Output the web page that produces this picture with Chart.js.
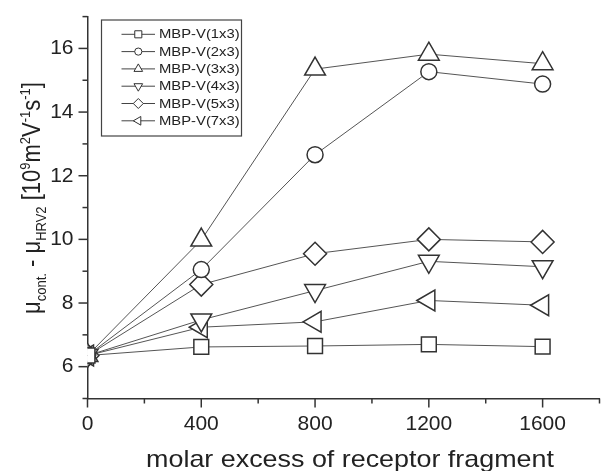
<!DOCTYPE html>
<html><head><meta charset="utf-8">
<script src="https://cdn.jsdelivr.net/npm/chart.js@4"></script>
<style>html,body{margin:0;padding:0;background:#fff}#wrap{width:613px;height:471px;position:relative}</style>
</head><body><div id="wrap"><canvas id="c"></canvas></div>
<script>
// ---- data ----
const xValues = [0, 400, 800, 1200, 1600];
const s1x3 = [6.35, 6.62, 6.65, 6.70, 6.63];
const s2x3 = [6.35, 9.05, 12.66, 15.27, 14.88];
const s3x3 = [6.35, 9.98, 15.35, 15.82, 15.52];
const s4x3 = [6.35, 7.47, 8.39, 9.31, 9.14];
const s5x3 = [6.35, 8.58, 9.55, 10.00, 9.92];
const s7x3 = [6.35, 7.24, 7.41, 8.08, 7.93];
const seriesLabels = ['MBP-V(1x3)', 'MBP-V(2x3)', 'MBP-V(3x3)', 'MBP-V(4x3)', 'MBP-V(5x3)', 'MBP-V(7x3)'];
const xTickLabels = ['0', '400', '800', '1200', '1600'];
const yTickLabels = ['6', '8', '10', '12', '14', '16'];
const xTitle = 'molar excess of receptor fragment';
// y title parts: [text, kind] kind: n normal, sub, sup
const yTitleParts = [['\u03bc','n'],['cont.','sub'],[' - \u03bc','n'],['HRV2','sub'],[' [10','n'],['9','sup'],['m','n'],['2','sup'],['V','n'],['-1','sup'],['s','n'],['-1','sup'],[']','n']];

const seriesValues = [s1x3, s2x3, s3x3, s4x3, s5x3, s7x3];
const styles = [
  {ps:'rect', r:10.5, rot:0, lr:5},
  {ps:'circle', r:8, rot:0, lr:3.6},
  {ps:'triangle', r:12, rot:0, lr:5},
  {ps:'triangle', r:12, rot:180, lr:5},
  {ps:'rectRot', r:11.5, rot:0, lr:5},
  {ps:'triangle', r:12, rot:270, lr:5}
];
const FONT = '"Liberation Sans", Arial, sans-serif';

const datasets = seriesValues.map((vals, i) => ({
  label: seriesLabels[i],
  data: xValues.map((x, j) => ({x: x, y: vals[j]})),
  borderColor: '#555',
  borderWidth: 1,
  pointStyle: styles[i].ps,
  pointRadius: styles[i].r,
  pointRotation: styles[i].rot,
  pointBorderColor: '#333',
  pointBorderWidth: 1.5,
  pointBackgroundColor: '#fff',
  pointHoverRadius: styles[i].r,
  fill: false,
  tension: 0,
  clip: {left: 0, top: false, right: false, bottom: false}
}));

const decorPlugin = {
  id: 'decor',
  afterDraw(chart) {
    const ctx = chart.ctx;
    const xs = chart.scales.x, ys = chart.scales.y;
    const ca = chart.chartArea;
    ctx.save();
    ctx.strokeStyle = '#333';
    ctx.lineWidth = 1.5;
    // y ticks
    for (let v = 5; v <= 17; v++) {
      const p = ys.getPixelForValue(v);
      const major = yTickLabels.includes(String(v));
      const len = major ? 9 : 5;
      ctx.beginPath(); ctx.moveTo(ca.left, p); ctx.lineTo(ca.left - len, p); ctx.stroke();
    }
    for (let v = 0; v <= 1800; v += 200) {
      const p = xs.getPixelForValue(v);
      const major = xTickLabels.includes(String(v));
      const len = major ? 9 : 5;
      ctx.beginPath(); ctx.moveTo(p, ca.bottom); ctx.lineTo(p, ca.bottom + len); ctx.stroke();
    }
    // x title
    ctx.save();
    ctx.fillStyle = '#222';
    ctx.font = '24px ' + FONT;
    ctx.textAlign = 'center';
    ctx.textBaseline = 'alphabetic';
    ctx.translate(350, 467);
    ctx.scale(1.12, 1);
    ctx.fillText(xTitle, 0, 0);
    ctx.restore();
    // y title
    const big = 22, small = 13;
    let total = 0;
    const meas = yTitleParts.map(([t, k]) => {
      ctx.font = (k === 'n' ? big : small) + 'px ' + FONT;
      const w = ctx.measureText(t).width; total += w; return w;
    });
    ctx.save();
    ctx.fillStyle = '#222';
    ctx.translate(40, 198);
    ctx.scale(1.15, 1);
    ctx.rotate(-Math.PI / 2);
    ctx.textAlign = 'left';
    let cx = -total / 2;
    yTitleParts.forEach(([t, k], i) => {
      ctx.font = (k === 'n' ? big : small) + 'px ' + FONT;
      const dy = k === 'sub' ? 5 : (k === 'sup' ? -9 : 0);
      ctx.fillText(t, cx, dy);
      cx += meas[i];
    });
    ctx.restore();
    // legend
    const bx = 101.5, by = 20, bw = 140, bh = 116;
    ctx.fillStyle = '#fff';
    ctx.fillRect(bx, by, bw, bh);
    ctx.strokeStyle = '#444';
    ctx.lineWidth = 1.2;
    ctx.strokeRect(bx, by, bw, bh);
    seriesLabels.forEach((lab, i) => {
      const y = 34.3 + i * 17.3;
      ctx.strokeStyle = '#444'; ctx.lineWidth = 1;
      ctx.beginPath(); ctx.moveTo(121.5, y); ctx.lineTo(155, y); ctx.stroke();
      ctx.fillStyle = '#fff'; ctx.strokeStyle = '#333'; ctx.lineWidth = 1;
      if (Chart.helpers && Chart.helpers.drawPoint) {
        Chart.helpers.drawPoint(ctx, {pointStyle: styles[i].ps, radius: styles[i].lr, rotation: styles[i].rot, borderWidth: 1}, 138.3, y);
      }
      ctx.save();
      ctx.fillStyle = '#222';
      ctx.font = '13px ' + FONT;
      ctx.textAlign = 'left';
      ctx.textBaseline = 'middle';
      ctx.translate(159, y + 0.5);
      ctx.scale(1.14, 1);
      ctx.fillText(lab, 0, 0);
      ctx.restore();
    });
    ctx.restore();
  }
};

new Chart(document.getElementById('c'), {
  type: 'line',
  data: {datasets: datasets},
  options: {
    responsive: true,
    maintainAspectRatio: false,
    devicePixelRatio: 1,
    animation: false,
    layout: {padding: {top: 12, right: 2, left: 0, bottom: 0}},
    plugins: {legend: {display: false}, tooltip: {enabled: false}},
    scales: {
      x: {
        type: 'linear', min: 0, max: 1800,
        afterFit: s => { s.height = 72.5; },
        border: {display: true, color: '#333', width: 1.5},
        grid: {display: false, drawTicks: true, tickLength: 10},
        ticks: {
          stepSize: 200, autoSkip: false, maxRotation: 0, padding: 3,
          color: '#222', font: {family: FONT, size: 21},
          callback: v => xTickLabels.includes(String(v)) ? String(v) : ''
        }
      },
      y: {
        type: 'linear', min: 5, max: 17,
        afterFit: s => { s.width = 87.5; },
        border: {display: true, color: '#333', width: 1.5},
        grid: {display: false, drawTicks: true, tickLength: 10},
        ticks: {
          stepSize: 1, autoSkip: false, padding: 4,
          color: '#222', font: {family: FONT, size: 21},
          callback: v => yTickLabels.includes(String(v)) ? String(v) : ''
        }
      }
    }
  },
  plugins: [decorPlugin]
});
</script></body></html>
